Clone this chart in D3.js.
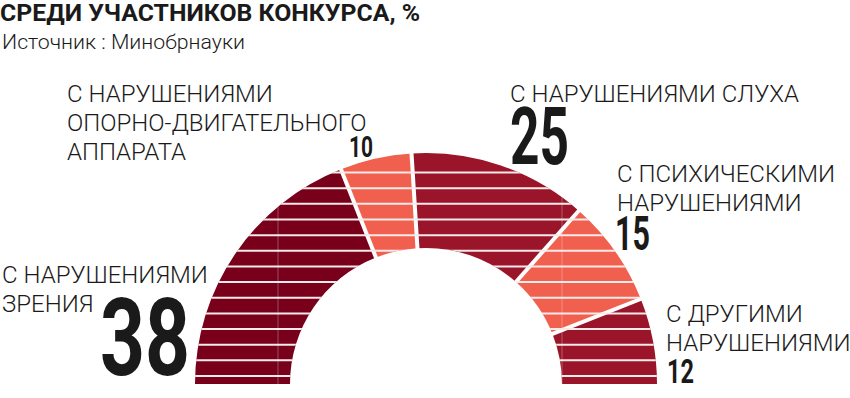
<!DOCTYPE html>
<html>
<head>
<meta charset="utf-8">
<script src="https://cdn.jsdelivr.net/npm/d3@7"></script>
<style>
  body { margin: 0; background: #fff; }
  text { font-family: Roboto, "Noto Sans", sans-serif; }
</style>
</head>
<body>
<svg></svg>
<script>
// data
const categories = ["зрения", "опорно-двигательного аппарата", "слуха", "психические", "другие"];
const values = [38, 10, 25, 15, 12];
const labelLines = [
  ["С НАРУШЕНИЯМИ", "ЗРЕНИЯ"],
  ["С НАРУШЕНИЯМИ", "ОПОРНО-ДВИГАТЕЛЬНОГО", "АППАРАТА"],
  ["С НАРУШЕНИЯМИ СЛУХА"],
  ["С ПСИХИЧЕСКИМИ", "НАРУШЕНИЯМИ"],
  ["С ДРУГИМИ", "НАРУШЕНИЯМИ"]
];
const title = "СРЕДИ УЧАСТНИКОВ КОНКУРСА, %";
const source = "Источник : Минобрнауки";

const w = 850;
const h = 398;
// centre and radii of the half ring
const cx = 426;
const cy = 384;
const outerR = 231;
const innerR = 136;

const svg = d3.select("svg").attr("width", w).attr("height", h);

const color = d3
  .scaleOrdinal()
  .domain(categories)
  .range(["#78001b", "#f1604f", "#9a1529", "#f1604f", "#9a1529"]);

const pie = d3
  .pie()
  .sort(null)
  .startAngle(-Math.PI / 2)
  .endAngle(Math.PI / 2);

const arcs = pie(values);
const arc = d3.arc().innerRadius(innerR).outerRadius(outerR);

// clip so the stripes stay inside the ring
svg
  .append("clipPath")
  .attr("id", "ring")
  .append("path")
  .attr("transform", `translate(${cx}, ${cy})`)
  .attr("d", d3.arc().innerRadius(innerR).outerRadius(outerR)({ startAngle: -Math.PI / 2, endAngle: Math.PI / 2 }));

const chart = svg.append("g").attr("transform", `translate(${cx}, ${cy})`);

chart
  .selectAll(".slice")
  .data(arcs)
  .enter()
  .append("path")
  .attr("class", "slice")
  .attr("d", arc)
  .attr("fill", (d, i) => color(categories[i]));

// horizontal stripes + the two faint vertical guides
const deco = svg.append("g").attr("clip-path", "url(#ring)");
deco
  .selectAll(".stripe")
  .data(d3.range(14))
  .enter()
  .append("line")
  .attr("x1", cx - outerR - 5)
  .attr("x2", cx + outerR + 5)
  .attr("y1", i => cy - 8 - i * 15.65)
  .attr("y2", i => cy - 8 - i * 15.65)
  .attr("stroke", "#f6eaea")
  .attr("stroke-width", 2);

deco
  .selectAll(".guide")
  .data([cx - 148, cx + 136])
  .enter()
  .append("line")
  .attr("x1", d => d)
  .attr("x2", d => d)
  .attr("y1", cy - outerR)
  .attr("y2", cy)
  .attr("stroke", "#ffffff")
  .attr("stroke-opacity", 0.3)
  .attr("stroke-width", 1);

// white gaps between slices
chart
  .selectAll(".sep")
  .data(arcs.slice(0, -1))
  .enter()
  .append("line")
  .attr("x1", d => innerR * Math.sin(d.endAngle) * 0.97)
  .attr("y1", d => -innerR * Math.cos(d.endAngle) * 0.97)
  .attr("x2", d => (outerR + 4) * Math.sin(d.endAngle))
  .attr("y2", d => -(outerR + 4) * Math.cos(d.endAngle))
  .attr("stroke", "#fff")
  .attr("stroke-width", 4);

// title and source
svg
  .append("text")
  .attr("x", 0)
  .attr("y", 21)
  .attr("font-size", 24)
  .attr("font-weight", 700)
  .attr("textLength", 420)
  .attr("lengthAdjust", "spacingAndGlyphs")
  .attr("fill", "#1a1a1a")
  .text(title);

svg
  .append("text")
  .attr("x", 2)
  .attr("y", 48.5)
  .attr("font-size", 21)
  .attr("font-weight", 300)
  .attr("textLength", 243)
  .attr("lengthAdjust", "spacingAndGlyphs")
  .attr("fill", "#1a1a1a")
  .text(source);

// where each label block sits: text x, first baseline, number x, number baseline, number size, number width
const labelPos = [
  { x: 2, y: 283, nx: 100, ny: 375, size: 108, nw: 90 },
  { x: 67, y: 101.5, nx: 349, ny: 157, size: 30, nw: 24 },
  { x: 510, y: 102, nx: 510, ny: 164, size: 80, nw: 59 },
  { x: 617, y: 181.5, nx: 615, ny: 250, size: 49, nw: 35 },
  { x: 666, y: 321.5, nx: 667, ny: 383, size: 33, nw: 27 }
];
const lineGap = 29.3;

const labels = svg
  .selectAll(".label")
  .data(arcs)
  .enter()
  .append("g")
  .attr("class", "label");

labels.each(function(d, i) {
  const g = d3.select(this);
  const p = labelPos[i];
  labelLines[i].forEach((line, k) => {
    g.append("text")
      .attr("x", p.x)
      .attr("y", p.y + k * lineGap)
      .attr("font-size", 24)
      .attr("font-weight", 300)
      .attr("fill", "#1a1a1a")
      .text(line);
  });
  g.append("text")
    .attr("x", p.nx)
    .attr("y", p.ny)
    .attr("font-size", p.size)
    .attr("font-weight", 700)
    .attr("textLength", p.nw)
    .attr("lengthAdjust", "spacingAndGlyphs")
    .attr("fill", "#1a1a1a")
    .text(d.data);
});
</script>
</body>
</html>
